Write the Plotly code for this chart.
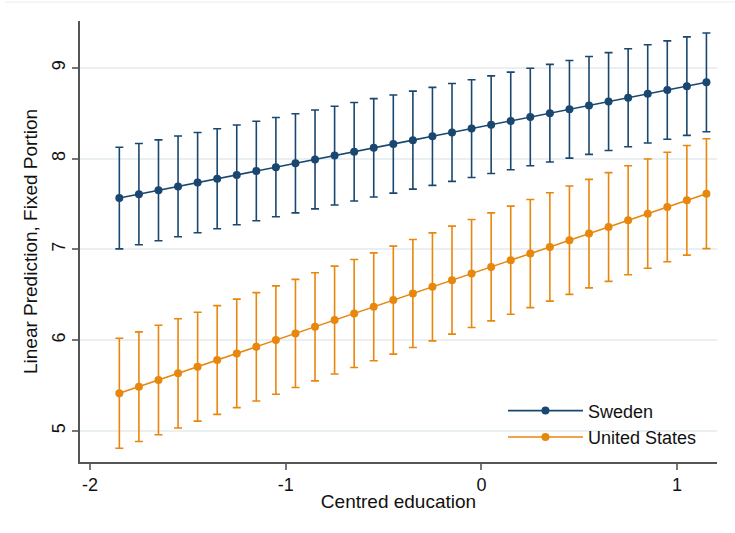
import plotly.graph_objects as go

# Centred education values at which the fixed-portion predictions are evaluated
educ_c = [-1.85, -1.75, -1.65, -1.55, -1.45, -1.35, -1.25, -1.15, -1.05, -0.95,
          -0.85, -0.75, -0.65, -0.55, -0.45, -0.35, -0.25, -0.15, -0.05, 0.05,
          0.15, 0.25, 0.35, 0.45, 0.55, 0.65, 0.75, 0.85, 0.95, 1.05, 1.15]

# Sweden: linear prediction and 95% CI half-width
sweden_pred = [7.567, 7.610, 7.652, 7.695, 7.737, 7.780, 7.822, 7.865, 7.907, 7.950,
               7.992, 8.035, 8.077, 8.120, 8.162, 8.205, 8.247, 8.290, 8.332, 8.375,
               8.417, 8.460, 8.502, 8.545, 8.587, 8.630, 8.672, 8.715, 8.757, 8.800,
               8.842]
sweden_ci = [0.560, 0.558, 0.556, 0.555, 0.553, 0.551, 0.550, 0.548, 0.547, 0.546,
             0.545, 0.544, 0.543, 0.542, 0.541, 0.540, 0.540, 0.539, 0.539, 0.538,
             0.538, 0.538, 0.538, 0.538, 0.539, 0.539, 0.540, 0.541, 0.542, 0.543,
             0.544]

# United States: linear prediction and 95% CI half-width
us_pred = [5.415, 5.488, 5.562, 5.635, 5.708, 5.782, 5.855, 5.928, 6.002, 6.075,
           6.148, 6.222, 6.295, 6.368, 6.442, 6.515, 6.588, 6.662, 6.735, 6.808,
           6.882, 6.955, 7.028, 7.102, 7.175, 7.248, 7.322, 7.395, 7.468, 7.542,
           7.615]
us_ci = [0.606, 0.604, 0.603, 0.602, 0.600, 0.599, 0.598, 0.597, 0.597, 0.596,
         0.596, 0.595, 0.595, 0.595, 0.595, 0.595, 0.595, 0.595, 0.595, 0.595,
         0.596, 0.596, 0.597, 0.597, 0.598, 0.599, 0.600, 0.602, 0.603, 0.604,
         0.606]

x_ticks = [-2, -1, 0, 1]
y_ticks = [5, 6, 7, 8, 9]

NAVY = "#1a476f"
ORANGE = "#e8870e"
FONT = "Liberation Sans, Arial, sans-serif"

fig = go.Figure()
for name, pred, ci, col in [("Sweden", sweden_pred, sweden_ci, NAVY),
                            ("United States", us_pred, us_ci, ORANGE)]:
    fig.add_trace(go.Scatter(
        x=educ_c, y=pred, name=name, mode="lines+markers",
        line=dict(color=col, width=1.6),
        marker=dict(color=col, size=8),
        error_y=dict(type="data", array=ci, symmetric=True,
                     color=col, thickness=1.6, width=4),
    ))

# faint outline along the top of the graph region
fig.add_shape(type="line", xref="paper", yref="paper",
              x0=-0.118, x1=1.03, y0=1.043, y1=1.043,
              line=dict(color="#e6eef0", width=1))

fig.update_layout(
    width=735, height=533,
    margin=dict(l=80, r=18, t=21, b=71),
    paper_bgcolor="white", plot_bgcolor="white",
    font=dict(family=FONT, size=16, color="#111111"),
    showlegend=True,
    legend=dict(x=0.664, y=0.015, xanchor="left", yanchor="bottom",
                bgcolor="rgba(0,0,0,0)", font=dict(size=18),
                itemwidth=75, tracegroupgap=0),
    xaxis=dict(
        range=[-2.051, 1.204], tickvals=x_ticks,
        ticktext=[str(v) for v in x_ticks], tickfont=dict(size=18),
        showgrid=False, zeroline=False,
        showline=True, linecolor="#555555", linewidth=1.5,
        ticks="outside", ticklen=6, tickcolor="#777777", tickwidth=1.5,
        title=dict(text="Centred education", standoff=0),
    ),
    yaxis=dict(
        range=[4.658, 9.518], tickvals=y_ticks,
        ticktext=[str(v) for v in y_ticks], tickangle=-90,
        tickfont=dict(size=18),
        showgrid=True, gridcolor="#eaf0f2", gridwidth=1.5,
        zeroline=False,
        showline=True, linecolor="#555555", linewidth=1.5,
        ticks="outside", ticklen=6, tickcolor="#777777", tickwidth=1.5,
        title=dict(text="Linear Prediction, Fixed Portion", standoff=6),
    ),
)

fig.write_html("out.html")
